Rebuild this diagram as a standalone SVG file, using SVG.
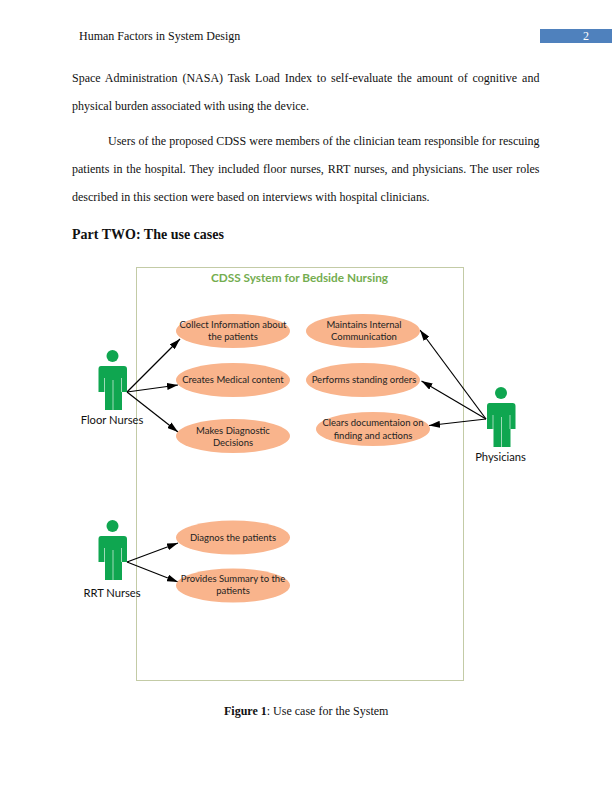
<svg xmlns="http://www.w3.org/2000/svg" width="612" height="792" viewBox="0 0 612 792">
<style>
.b{font-family:"Liberation Serif",serif;font-size:12px;fill:#111}
.u{fill:#f9b48c}
.t{font-family:Lato,"Liberation Sans",sans-serif;font-size:9.500px;fill:#222;text-anchor:middle}
.a{font-family:Lato,"Liberation Sans",sans-serif;font-size:11.200px;fill:#111;text-anchor:middle}
.c{stroke:#000;stroke-width:1.200;fill:none;marker-end:url(#arr)}
</style>
<defs>
<marker id="arr" markerUnits="userSpaceOnUse" markerWidth="11" markerHeight="7" refX="11" refY="3.500" orient="auto"><path d="M0 0L11 3.500L0 7z" fill="#000"/></marker>
<g id="person">
<circle cx="112.500" cy="356" r="6" fill="#0fa650"/>
<path d="M101 366H124Q127 366 127 369V392H122V410H105V392H98.500V369Q98.500 366 101 366z" fill="#0fa650"/>
<path d="M113 380V410M104.500 378V392M121.500 378V392" stroke="#fff" stroke-width=".6" fill="none"/>
</g>
</defs>
<rect width="612" height="792" fill="#fff"/>
<g id="page-text">
<text class="b" x="79" y="40">Human Factors in System Design</text>
<rect x="540" y="29" width="72" height="14" fill="#4f81bd"/>
<text x="586" y="40" font-family="Liberation Serif, serif" font-size="12" fill="#fff" text-anchor="middle">2</text>
<text class="b" x="72" y="82" word-spacing="1.880">Space Administration (NASA) Task Load Index to self-evaluate the amount of cognitive and</text>
<text class="b" x="72" y="110">physical burden associated with using the device.</text>
<text class="b" x="108" y="145" word-spacing="0.050">Users of the proposed CDSS were members of the clinician team responsible for rescuing</text>
<text class="b" x="72" y="173" word-spacing="0.830">patients in the hospital. They included floor nurses, RRT nurses, and physicians. The user roles</text>
<text class="b" x="72" y="201">described in this section were based on interviews with hospital clinicians.</text>
<text x="72" y="239" font-family="Liberation Serif, serif" font-size="14" font-weight="bold" fill="#111">Part TWO: The use cases</text>
<text x="224" y="715" font-family="Liberation Serif, serif" font-size="12" fill="#111"><tspan font-weight="bold">Figure 1</tspan>: Use case for the System</text>
</g>
<g id="system-boundary">
<rect x="136.500" y="267.500" width="327" height="413" fill="none" stroke="#c3cba6" stroke-width="1"/>
<text x="299.500" y="282" font-family="Lato, Liberation Sans, sans-serif" font-size="11.800" font-weight="bold" fill="#74ad50" text-anchor="middle">CDSS System for Bedside Nursing</text>
</g>
<g id="connectors">
<path class="c" d="M127 392L180 339"/>
<path class="c" d="M127 392L178 385"/>
<path class="c" d="M127 392L178 432"/>
<path class="c" d="M127 562L178 543"/>
<path class="c" d="M127 562L178 582"/>
<path class="c" d="M486 419L420 330"/>
<path class="c" d="M486 419L421.500 381"/>
<path class="c" d="M486 419L429 425.500"/>
</g>
<g id="uc-collect"><ellipse class="u" cx="233" cy="331" rx="57" ry="17"/><text class="t" x="233" y="328">Collect Information about</text><text class="t" x="233" y="340">the patients</text></g>
<g id="uc-creates"><ellipse class="u" cx="233" cy="380" rx="57" ry="17"/><text class="t" x="233" y="383">Creates Medical content</text></g>
<g id="uc-makes"><ellipse class="u" cx="233" cy="436" rx="57" ry="17"/><text class="t" x="233" y="434">Makes Diagnostic</text><text class="t" x="233" y="445.500">Decisions</text></g>
<g id="uc-maintains"><ellipse class="u" cx="363" cy="331" rx="57" ry="17"/><text class="t" x="364" y="328">Maintains Internal</text><text class="t" x="364" y="340">Communication</text></g>
<g id="uc-performs"><ellipse class="u" cx="363" cy="380" rx="57" ry="17"/><text class="t" x="364" y="383">Performs standing orders</text></g>
<g id="uc-clears"><ellipse class="u" cx="373" cy="429" rx="57" ry="17"/><text class="t" x="373" y="426">Clears documentaion on</text><text class="t" x="373" y="439">finding and actions</text></g>
<g id="uc-diagnos"><ellipse class="u" cx="233" cy="537.500" rx="57" ry="17"/><text class="t" x="233" y="541">Diagnos the patients</text></g>
<g id="uc-provides"><ellipse class="u" cx="233" cy="585.500" rx="57" ry="17"/><text class="t" x="233" y="582">Provides Summary to the</text><text class="t" x="233" y="594">patients</text></g>
<g id="actor-floor"><use href="#person"/><text class="a" x="112" y="424">Floor Nurses</text></g>
<g id="actor-rrt"><use href="#person" y="170"/><text class="a" x="112" y="597">RRT Nurses</text></g>
<g id="actor-physicians"><use href="#person" x="388.500" y="37"/><text class="a" x="500.500" y="461">Physicians</text></g>
</svg>
